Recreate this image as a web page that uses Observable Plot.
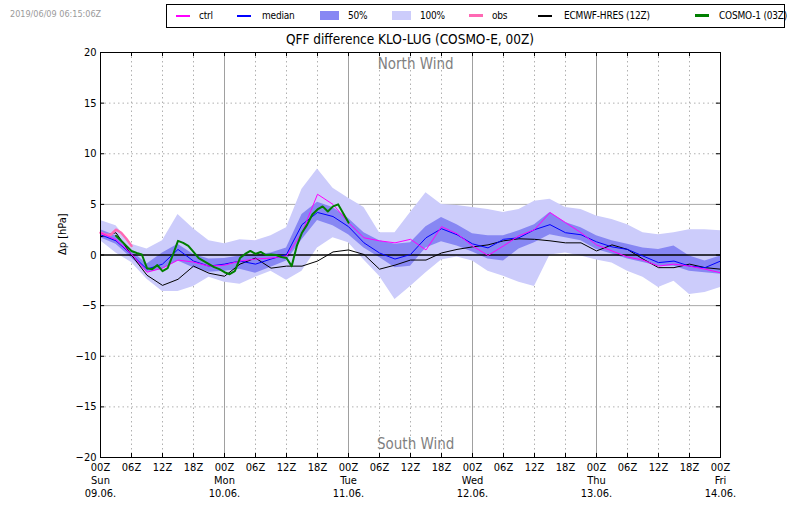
<!DOCTYPE html>
<html>
<head>
<meta charset="utf-8">
<script src="https://cdn.jsdelivr.net/npm/d3@7"></script>
<script src="https://cdn.jsdelivr.net/npm/@observablehq/plot@0.6"></script>
<style>
  body { margin: 0; background: #fff; font-family: "DejaVu Sans Condensed", "DejaVu Sans", sans-serif; }
  #wrap { position: relative; width: 800px; height: 509px; overflow: hidden; }
  #header { position: relative; height: 45px; }
  #stamp { position: absolute; left: 10px; top: 9px; font-size: 9px; color: #9a9a9a; }
  #legend { position: absolute; left: 166px; top: 4px; width: 617px; height: 22px; border: 1px solid #000; font-size: 10px; letter-spacing: -0.2px; }
  #legend .ln { position: absolute; }
  #legend .patch { position: absolute; top: 6px; height: 9px; width: 19px; }
  #legend .tx { position: absolute; top: 4px; line-height: 13px; white-space: nowrap; }
  #title { position: absolute; left: 100px; width: 620px; top: 31px; text-align: center; font-size: 13.5px; }
</style>
</head>
<body>
<div id="wrap">
  <div id="header">
    <div id="stamp">2019/06/09 06:15:06Z</div>
    <div id="legend">
      <div class="ln" style="left:9px;top:10px;width:14px;height:1.5px;background:#ff00ff"></div>
      <div class="tx" style="left:32px">ctrl</div>
      <div class="ln" style="left:70px;top:10px;width:14px;height:1.5px;background:#0000ff"></div>
      <div class="tx" style="left:95px">median</div>
      <div class="patch" style="left:153px;background:#8787f3"></div>
      <div class="tx" style="left:181px">50%</div>
      <div class="patch" style="left:225px;background:#ccccfb"></div>
      <div class="tx" style="left:253px">100%</div>
      <div class="ln" style="left:302px;top:9px;width:14px;height:2.5px;background:#ff69b4"></div>
      <div class="tx" style="left:325px">obs</div>
      <div class="ln" style="left:371px;top:10px;width:14px;height:1.5px;background:#000"></div>
      <div class="tx" style="left:397px">ECMWF-HRES (12Z)</div>
      <div class="ln" style="left:528px;top:9px;width:14px;height:2.5px;background:#007f00"></div>
      <div class="tx" style="left:552px">COSMO-1 (03Z)</div>
    </div>
    <div id="title">QFF difference KLO-LUG (COSMO-E, 00Z)</div>
  </div>
  <div id="chart"></div>
</div>
<script>
// ---------------- data ----------------
const hours = [0,3,6,9,12,15,18,21,24,27,30,33,36,39,42,45,48,51,54,57,60,63,66,69,72,75,78,81,84,87,90,93,96,99,102,105,108,111,114,117,120];

const q0   = [1.4,0.2,-0.75,-2.4,-3.6,-3.6,-3.1,-2.2,-2.7,-2.9,-2.2,-1.6,-2.5,-1.6,0.7,1.7,1.2,-0.5,-2.1,-4.4,-3.1,-1.75,-0.5,-0.2,-0.6,-1.6,-2.1,-2.7,-3.1,0.0,0.2,-0.1,-0.5,-0.8,-1.6,-2.2,-3.2,-2.6,-3.9,-3.7,-3.2];
const q25  = [1.7,1.05,-0.3,-1.7,-1.4,-0.6,-1.25,-1.7,-1.6,-1.4,-1.8,-1.2,-0.6,1.5,3.4,2.9,2.0,0.7,-0.25,-1.25,-1.1,0.7,1.3,0.9,0.3,-0.4,-0.6,0.6,1.2,2.0,1.7,1.4,0.55,0.1,-0.4,-0.75,-1.1,-1.1,-1.6,-1.75,-1.9];
const q50  = [2.0,1.4,0.05,-1.4,-0.9,0.55,-0.6,-1.1,-0.9,-0.6,-0.9,-0.4,0.05,3.0,4.2,3.8,2.8,1.2,0.2,-0.4,0.05,1.7,2.6,2.0,1.1,0.7,1.55,1.7,2.5,3.0,2.2,2.0,1.3,0.8,0.55,-0.1,-0.75,-0.6,-1.1,-1.25,-0.6];
const q75  = [2.5,1.9,0.4,-0.9,0.2,1.05,0.05,-0.4,-0.35,-0.1,0.0,0.2,0.7,4.0,5.2,4.7,3.6,2.2,1.4,1.05,1.2,2.8,3.7,3.0,2.1,1.9,1.9,2.4,3.0,4.2,3.2,2.7,1.9,1.4,1.05,0.7,0.55,0.9,-0.1,-0.6,-0.1];
const q100 = [3.4,2.9,1.05,0.6,1.4,4.0,2.6,1.4,1.1,1.5,1.4,1.9,2.7,6.5,8.5,6.6,5.6,4.7,2.2,2.2,4.2,6.15,5.0,4.9,4.7,4.5,4.2,4.5,5.3,5.5,4.7,4.5,3.85,3.5,3.0,2.2,2.0,2.2,2.5,2.5,2.4];
const ctrl = [2.2,1.5,0.1,-1.7,-1.3,-0.5,-0.7,-1.1,-1.0,-0.6,-0.4,-0.3,-0.1,2.2,6.0,5.0,3.2,1.7,1.4,1.2,1.55,0.5,2.8,2.1,0.9,-0.05,0.9,1.9,2.5,4.2,3.2,2.2,1.0,0.4,-0.2,-0.5,-1.1,-0.9,-1.1,-1.4,-1.75];
const ecmwf = [1.8,2.2,0.0,-2.0,-3.0,-2.4,-1.1,-1.8,-2.1,-0.9,-0.3,-1.3,-1.1,-1.1,-0.6,0.3,0.5,0.05,-1.4,-1.0,-0.5,-0.5,0.2,0.55,0.8,1.0,1.4,1.6,1.55,1.4,1.2,1.2,0.4,1.0,0.55,-0.4,-1.25,-1.25,-0.9,-1.25,-1.4];

const obsHours = [0,1,2,3,4,5,6];
const obs      = [2.2,2.0,2.0,2.5,2.2,1.6,0.9];

const cosmoHours = [3,4,5,6,7,8,9,10,11,12,13,14,15,16,17,18,19,20,21,22,23,24,25,26,27,28,29,30,31,32,33,34,35,36,37,38,39,40,41,42,43,44,45,46,47,48];
const cosmo      = [1.9,1.4,0.9,0.4,0.2,0.05,-1.3,-1.4,-1.0,-1.6,-1.3,0.0,1.4,1.2,0.9,0.3,-0.3,-0.6,-0.9,-1.2,-1.4,-1.7,-1.9,-1.6,-0.3,0.1,0.4,0.1,0.3,0.0,0.05,0.0,-0.2,-0.3,-1.1,0.9,2.2,3.0,4.0,4.5,4.8,4.3,4.8,5.0,4.1,3.2];

// tick labels
const xTicks = [0,6,12,18,24,30,36,42,48,54,60,66,72,78,84,90,96,102,108,114,120];
const hourLabels = ["00Z","06Z","12Z","18Z"];
const dayNames = ["Sun","Mon","Tue","Wed","Thu","Fri"];
const dayDates = ["09.06.","10.06.","11.06.","12.06.","13.06.","14.06."];
const dayTicks = [24,48,72,96];
const subTicks = [6,12,18,30,36,42,54,60,66,78,84,90,102,108,114];
const yTicks = [-20,-15,-10,-5,0,5,10,15,20];
const notes = [{h: 61, v: 18.8, t: "North Wind"}, {h: 61, v: -18.7, t: "South Wind"}];

// ---------------- tables ----------------
const rows = hours.map((h, i) => ({h, q0: q0[i], q25: q25[i], q50: q50[i], q75: q75[i], q100: q100[i], ctrl: ctrl[i], ecmwf: ecmwf[i]}));
const obsRows = obsHours.map((h, i) => ({h, v: obs[i]}));
const cosmoRows = cosmoHours.map((h, i) => ({h, v: cosmo[i]}));

const fmtX = h => {
  const hl = hourLabels[(h % 24) / 6];
  if (h % 24 === 0) { const d = h / 24; return hl + "\n" + dayNames[d] + "\n" + dayDates[d]; }
  return hl;
};
const fmtY = d => d < 0 ? "\u2212" + (-d) : String(d);

const chart = Plot.plot({
  width: 800,
  height: 464,
  marginTop: 7,
  marginBottom: 52,
  marginLeft: 100,
  marginRight: 80,
  style: {fontFamily: '"DejaVu Sans Condensed", "DejaVu Sans", sans-serif', fontSize: "11px", background: "white", color: "black"},
  x: {domain: [0, 120]},
  y: {domain: [-20, 20]},
  marks: [
    Plot.ruleX(subTicks, {stroke: "#b0b0b0", strokeDasharray: "1.5,3"}),
    Plot.ruleY([-15, -10, 10, 15], {stroke: "#b0b0b0", strokeDasharray: "1.5,3"}),
    Plot.ruleX(dayTicks, {stroke: "#a0a0a0", strokeWidth: 1}),
    Plot.ruleY([-5, 5], {stroke: "#a8a8a8", strokeWidth: 1}),
    Plot.areaY(rows, {x: "h", y1: "q0", y2: "q100", fill: "#ccccfb"}),
    Plot.areaY(rows, {x: "h", y1: "q25", y2: "q75", fill: "#8787f3"}),
    Plot.ruleY([0], {stroke: "black", strokeWidth: 1.5}),
    Plot.line(rows, {x: "h", y: "ecmwf", stroke: "black", strokeWidth: 1}),
    Plot.line(rows, {x: "h", y: "q50", stroke: "#0000ff", strokeWidth: 1}),
    Plot.line(obsRows, {x: "h", y: "v", stroke: "#ff69b4", strokeWidth: 2.5}),
    Plot.line(rows, {x: "h", y: "ctrl", stroke: "#ff00ff", strokeWidth: 1}),
    Plot.line(cosmoRows, {x: "h", y: "v", stroke: "#007f00", strokeWidth: 2}),
    Plot.text(notes, {x: "h", y: "v", text: "t", fill: "#7f7f7f", fontSize: 15}),
    Plot.text(["\u0394p [hPa]"], {frameAnchor: "left", rotate: -90, dx: -38, fontSize: 11}),
    // inward tick marks
    Plot.ruleX(xTicks, {y1: -20, y2: -19.6, stroke: "black"}),
    Plot.ruleX(xTicks, {y1: 20, y2: 19.6, stroke: "black"}),
    Plot.ruleY(yTicks, {x1: 0, x2: 0.8, stroke: "black"}),
    Plot.ruleY(yTicks, {x1: 120, x2: 119.2, stroke: "black"}),
    Plot.axisX({ticks: xTicks, tickFormat: fmtX, tickSize: 0, tickPadding: 5, label: null, lineHeight: 1.15, fontSize: 11}),
    Plot.axisY({ticks: yTicks, tickFormat: fmtY, tickSize: 0, tickPadding: 4, label: null, fontSize: 11}),
    Plot.frame({stroke: "black", strokeWidth: 1})
  ]
});
document.getElementById("chart").appendChild(chart);
</script>
</body>
</html>
